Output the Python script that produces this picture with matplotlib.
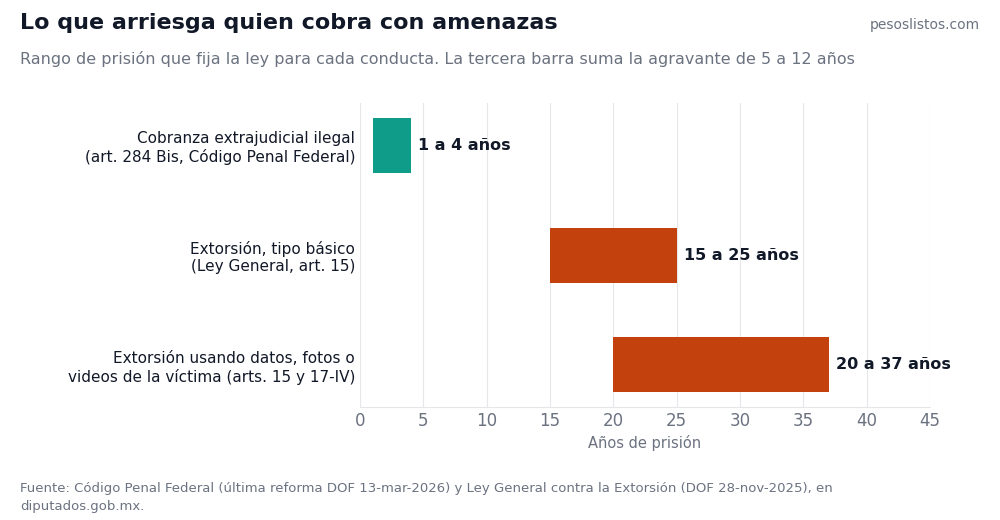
import matplotlib
matplotlib.use("Agg")
import matplotlib.pyplot as plt

categories = ["Cobranza extrajudicial ilegal\n(art. 284 Bis, Código Penal Federal)",
              "Extorsión, tipo básico\n(Ley General, art. 15)",
              "Extorsión usando datos, fotos o\nvideos de la víctima (arts. 15 y 17-IV)"]
mins = [1, 15, 20]
maxs = [4, 25, 37]
labels = ["1 a 4 años", "15 a 25 años", "20 a 37 años"]
colors = ["#0f9d8a", "#c2410c", "#c2410c"]
ticks = [0, 5, 10, 15, 20, 25, 30, 35, 40, 45]

plt.rcParams['font.family'] = ['DejaVu Sans']
fig = plt.figure(figsize=(10, 5.2), dpi=100)
ax = fig.add_axes([0.36, 0.218, 0.57, 0.583])
y = list(range(len(categories)))
ax.barh(y, [b - a for a, b in zip(mins, maxs)], left=mins, color=colors, height=0.5, zorder=3)
for yi, m, l in zip(y, maxs, labels):
    ax.text(m + 0.55, yi, l, va="center", ha="left", fontsize=11.5, fontweight="bold", color="#111827")
ax.set_yticks(y)
ax.set_yticklabels(categories, fontsize=11, color="#111827")
ax.invert_yaxis()
ax.set_ylim(2.38, -0.38)
ax.set_xlim(0, 45)
ax.set_xticks(ticks)
ax.tick_params(axis="x", labelsize=12, colors="#6b7280", length=0)
ax.tick_params(axis="y", length=0)
ax.grid(axis="x", color="#e5e7eb", zorder=0)
for s in ax.spines.values():
    s.set_visible(False)
ax.spines["bottom"].set_visible(True)
ax.spines["bottom"].set_color("#e5e7eb")
ax.set_xlabel("Años de prisión", fontsize=10.5, color="#6b7280")

fig.text(0.02, 0.945, "Lo que arriesga quien cobra con amenazas", fontsize=16, fontweight="bold", color="#111827")
fig.text(0.02, 0.877, "Rango de prisión que fija la ley para cada conducta. La tercera barra suma la agravante de 5 a 12 años", fontsize=11.5, color="#6b7280")
fig.text(0.98, 0.945, "pesoslistos.com", fontsize=10, color="#6b7280", ha="right")
fig.text(0.02, 0.02, "Fuente: Código Penal Federal (última reforma DOF 13-mar-2026) y Ley General contra la Extorsión (DOF 28-nov-2025), en\ndiputados.gob.mx.", fontsize=9.5, color="#6b7280", linespacing=1.5)
fig.savefig("out.png")
